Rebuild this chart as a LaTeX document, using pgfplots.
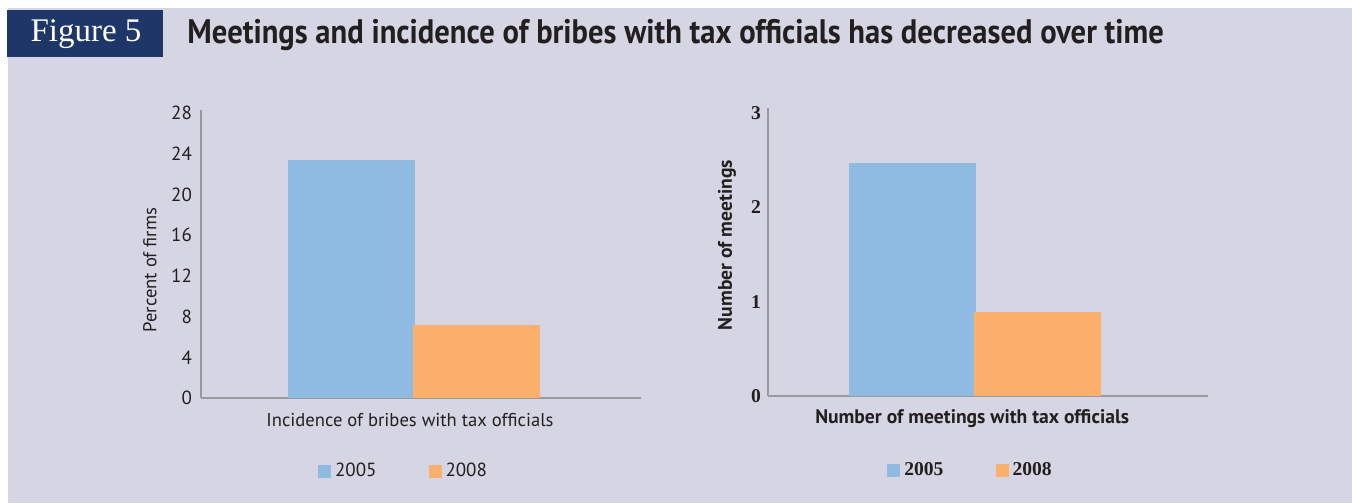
\documentclass[border=0pt]{standalone}
\usepackage{pgfplots}
\pgfplotsset{compat=1.18}
\usepackage{fontspec}
\setmainfont{PT Sans}
\newfontfamily\lsans{PT Sans}
\newfontfamily\bsans{PT Sans}
\newfontfamily\bserif{Liberation Serif}
\definecolor{bg}{HTML}{D6D5E3}
\definecolor{navy}{HTML}{1F3669}
\definecolor{cblue}{HTML}{8FBBE2}
\definecolor{corange}{HTML}{FAB06A}
\definecolor{txt}{HTML}{231F20}
\definecolor{axgray}{HTML}{9A9A9E}
\begin{document}
\begin{tikzpicture}
\useasboundingbox (0,0) rectangle (676pt,-251.5pt);
\fill[white] (0,0) rectangle (676pt,-251.5pt);
\fill[bg] (4pt,-4pt) rectangle (676pt,-251.5pt);
\fill[navy] (3.5pt,-5pt) rectangle (81.5pt,-28.5pt);
\node[text=white,font=\bserif\fontsize{16.5}{16.5}\selectfont,anchor=center] at (43pt,-17pt) {Figure 5};
\node[text=txt,anchor=west,font=\bsans\bfseries\fontsize{17}{17}\selectfont,inner sep=0pt] at (93.5pt,-17.5pt) {\scalebox{0.9}[1]{Meetings and incidence of bribes with tax officials has decreased over time}};

\pgfplotsset{
  mybars/.style={
    scale only axis, width=220pt, height=144pt,
    ybar, bar width=63.5pt,
    axis x line=bottom, axis y line=left,
    axis line style={-, draw=axgray, line width=0.8pt},
    xtick=\empty, major tick length=0pt,
    ymin=0, enlarge y limits=false,
    /pgf/number format/assume math mode=true,
    legend columns=2,
    legend style={draw=none, fill=none, font=#1, text=txt,
      /tikz/every even column/.append style={column sep=24pt}},
    legend image code/.code={\fill[##1,draw=none] (0pt,-3.25pt) rectangle (6.5pt,3.25pt);},
    label style={text=txt},
    tick label style={text=txt},
  }
}

% Left chart
\begin{axis}[mybars={\lsans\fontsize{9.5}{10}\selectfont},
  anchor=south west, at={(100.5pt,-199pt)},
  xmin=-0.204, xmax=3.316,
  ymax=28.29, ytick={0,4,...,28},
  tick label style={font=\lsans\fontsize{9.5}{10}\selectfont},
  yticklabel style={xshift=-1pt},
  label style={font=\lsans\fontsize{9.3}{10}\selectfont},
  ylabel={Percent of firms},
  ylabel style={at={(axis description cs:-0.116,0.444)}, anchor=center},
  xlabel={Incidence of bribes with tax officials},
  xlabel style={at={(axis description cs:0.475,0)}, anchor=center, yshift=-11pt},
  legend style={at={(axis description cs:0.4625,0)}, anchor=center, yshift=-36.5pt},
]
\addplot[fill=cblue, draw=none, bar shift=0pt] coordinates {(1,23.4)};
\addplot[fill=corange, draw=none, bar shift=0pt] coordinates {(2,7.2)};
\legend{2005,2008}
\end{axis}

% Right chart
\begin{axis}[mybars={\bserif\bfseries\fontsize{9.8}{10}\selectfont},
  anchor=south west, at={(384pt,-198pt)},
  xmin=-0.156, xmax=3.364,
  ymax=3.053, ytick={0,1,2,3},
  tick label style={font=\bserif\bfseries\fontsize{9.8}{10}\selectfont},
  label style={font=\bsans\bfseries\fontsize{9.8}{10}\selectfont},
  ylabel={Number of meetings},
  ylabel style={at={(axis description cs:-0.093,0.524)}, anchor=center},
  xlabel={Number of meetings with tax officials},
  xlabel style={at={(axis description cs:0.464,0)}, anchor=center, yshift=-11.5pt},
  legend style={at={(axis description cs:0.4625,0)}, anchor=center, yshift=-37pt},
]
\addplot[fill=cblue, draw=none, bar shift=0pt] coordinates {(1,2.47)};
\addplot[fill=corange, draw=none, bar shift=0pt] coordinates {(2,0.89)};
\legend{2005,2008}
\end{axis}
\end{tikzpicture}
\end{document}
